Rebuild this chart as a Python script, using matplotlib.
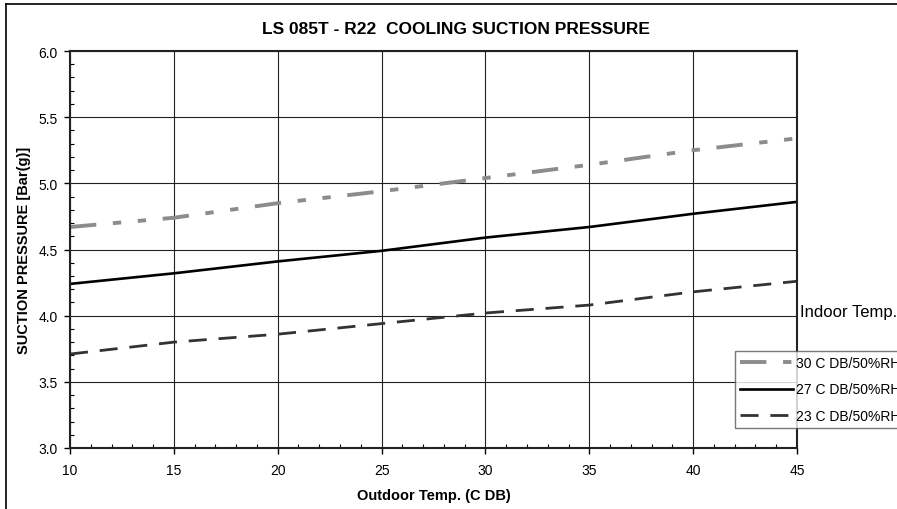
import numpy as np
import matplotlib
matplotlib.use("Agg")
import matplotlib.pyplot as plt
from matplotlib.lines import Line2D
from matplotlib.ticker import MultipleLocator

plt.rcParams['font.family'] = ['Liberation Sans', 'DejaVu Sans']
plt.rcParams['lines.scale_dashes'] = False

# data
outdoor_temp = [10, 15, 20, 25, 30, 35, 40, 45]
p_30c = [4.67, 4.74, 4.85, 4.94, 5.04, 5.14, 5.25, 5.34]
p_27c = [4.24, 4.32, 4.41, 4.49, 4.59, 4.67, 4.77, 4.86]
p_23c = [3.71, 3.80, 3.86, 3.94, 4.02, 4.08, 4.18, 4.26]
series_labels = ['30 C DB/50%RH', '27 C DB/50%RH', '23 C DB/50%RH']

W, H = 897, 510
fig = plt.figure(figsize=(W / 100, H / 100), dpi=100)
ax = fig.add_axes([70 / W, 1 - 449 / H, (797 - 70) / W, (449 - 52) / H])

# outer chart frame (left and top edges visible)
fig.add_artist(Line2D([6 / W, 6 / W], [0, 1 - 5 / H], transform=fig.transFigure,
                      color='black', lw=1.2))
fig.add_artist(Line2D([6 / W, 1], [1 - 5 / H, 1 - 5 / H], transform=fig.transFigure,
                      color='black', lw=1.2))

ax.plot(outdoor_temp, p_30c, color='#8c8c8c', lw=2.8,
        linestyle=(0, (19, 12, 6, 12, 6, 12)), label=series_labels[0])
ax.plot(outdoor_temp, p_27c, color='black', lw=1.9, label=series_labels[1])
ax.plot(outdoor_temp, p_23c, color='#333333', lw=2.0,
        linestyle=(0, (13, 8.5)), label=series_labels[2])

ax.set_xlim(10, 45)
ax.set_ylim(3.0, 6.0)
ax.xaxis.set_major_locator(MultipleLocator(5))
ax.xaxis.set_minor_locator(MultipleLocator(1))
ax.yaxis.set_major_locator(MultipleLocator(0.5))
ax.yaxis.set_minor_locator(MultipleLocator(0.1))
ax.yaxis.set_major_formatter(matplotlib.ticker.FormatStrFormatter('%.1f'))
ax.tick_params(which='major', direction='out', length=4, width=1, labelsize=10, pad=5)
ax.tick_params(axis='x', which='major', pad=7)
ax.tick_params(which='minor', direction='in', length=3, width=0.8)
ax.grid(which='major', color='#222222', lw=0.8)
ax.set_axisbelow(True)
for s in ax.spines.values():
    s.set_linewidth(1.5)
    s.set_color('#222222')

fig.text(456 / W, 1 - 30 / H, 'LS 085T - R22  COOLING SUCTION PRESSURE',
         fontsize=12.5, fontweight='bold', ha='center', va='center')
ax.set_xlabel('Outdoor Temp. (C DB)', fontsize=10.5, fontweight='bold', labelpad=8)
ax.set_ylabel('SUCTION PRESSURE [Bar(g)]', fontsize=10.5, fontweight='bold', labelpad=5)

fig.text(800 / W, 1 - 313 / H, 'Indoor Temp.', fontsize=12, va='center', ha='left')

leg = fig.legend(loc='upper left', bbox_to_anchor=(735 / W, 1 - 352 / H),
                 bbox_transform=fig.transFigure, fontsize=10, frameon=True,
                 fancybox=False, edgecolor='#555555', handlelength=3.8,
                 handletextpad=0.25, labelspacing=0.9, borderpad=0.35, borderaxespad=0)
leg.get_frame().set_linewidth(1.0)

fig.savefig('out.png', dpi=100)
